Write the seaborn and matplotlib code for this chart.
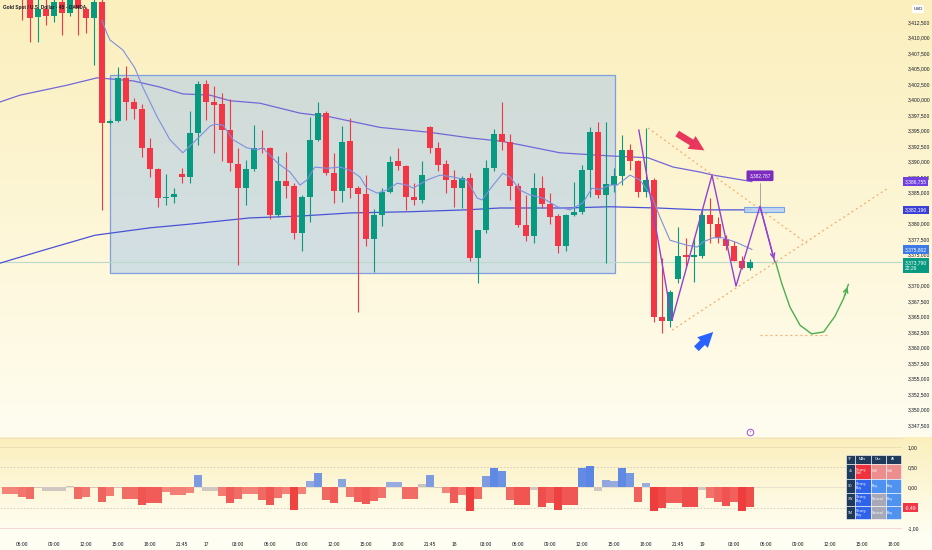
import numpy as np
import pandas as pd
import matplotlib
matplotlib.use("Agg")
import matplotlib.pyplot as plt
from matplotlib.patches import Rectangle
from matplotlib.colors import to_rgb
import seaborn as sns

sns.set_theme(style="white")
plt.rcParams['font.family'] = ['Liberation Sans', 'DejaVu Sans']

# ---- values (Gold Spot / USD, 45 min candles) ----
opens = [3419.0, 3418.2, 3418.8, 3417.0, 3413.3, 3414.55, 3413.5, 3415.7, 3413.9, 3416.8,
         3414.55, 3413.1, 3415.8, 3396.2, 3396.5, 3403.5, 3399.6, 3398.5, 3392.2, 3388.8,
         3384.1, 3384.3, 3388.0, 3387.5, 3394.6, 3402.5, 3399.6, 3399.2, 3395.1, 3389.6,
         3385.8, 3388.8, 3392.2, 3392.1, 3381.4, 3386.9, 3386.1, 3378.4, 3384.3, 3393.5,
         3397.9, 3388.2, 3385.2, 3393.3, 3385.7, 3384.7, 3377.5, 3381.4, 3385.1, 3390.0,
         3389.2, 3384.2, 3383.8, 3395.5, 3392.1, 3389.6, 3387.0, 3385.8, 3387.3, 3374.5,
         3378.9, 3388.9, 3394.5, 3393.1, 3386.1, 3379.8, 3378.0, 3385.7, 3383.2, 3381.2,
         3376.3, 3381.4, 3381.8, 3388.7, 3394.8, 3384.6, 3386.2, 3387.7, 3391.9, 3390.0,
         3385.1, 3387.0, 3364.9, 3364.3, 3371.0, 3374.9, 3374.6, 3374.8, 3381.4, 3379.9,
         3377.5, 3376.4, 3374.0, 3372.8]
closes = [3418.2, 3418.8, 3417.4, 3413.1, 3414.6, 3413.5, 3415.7, 3413.9, 3416.8, 3414.7,
          3413.1, 3415.8, 3396.2, 3396.5, 3403.5, 3399.6, 3398.5, 3392.2, 3388.8, 3384.1,
          3384.3, 3384.8, 3387.5, 3394.6, 3402.5, 3399.6, 3399.1, 3395.1, 3389.7, 3385.8,
          3388.8, 3392.1, 3392.0, 3381.4, 3386.9, 3386.1, 3378.4, 3384.3, 3393.5, 3397.9,
          3388.1, 3385.2, 3393.1, 3385.7, 3384.7, 3377.5, 3381.4, 3385.1, 3389.9, 3389.2,
          3384.2, 3383.8, 3387.9, 3392.1, 3389.4, 3387.0, 3385.8, 3387.3, 3374.5, 3378.9,
          3388.9, 3394.5, 3393.2, 3386.1, 3379.8, 3378.0, 3385.7, 3383.2, 3381.1, 3376.3,
          3381.4, 3381.8, 3388.7, 3394.8, 3384.6, 3386.3, 3387.7, 3391.9, 3390.0, 3385.1,
          3387.0, 3364.9, 3364.3, 3368.9, 3374.8, 3374.6, 3374.8, 3381.4, 3379.9, 3377.6,
          3376.4, 3374.0, 3372.8, 3373.8]
highs = [3420.1, 3420.0, 3419.5, 3417.8, 3416.5, 3416.3, 3416.6, 3416.6, 3417.5, 3417.5,
         3415.0, 3416.2, 3416.2, 3396.8, 3405.2, 3405.4, 3400.2, 3399.3, 3393.8, 3389.0,
         3388.0, 3385.7, 3389.0, 3398.1, 3403.0, 3403.2, 3402.2, 3401.0, 3400.1, 3392.2,
         3390.2, 3395.9, 3395.1, 3392.3, 3390.9, 3391.6, 3386.5, 3384.6, 3397.2, 3399.6,
         3398.2, 3391.3, 3395.7, 3397.0, 3386.0, 3387.8, 3382.3, 3385.7, 3390.9, 3392.1,
         3389.5, 3386.5, 3390.0, 3395.7, 3393.2, 3390.2, 3388.6, 3387.7, 3388.2, 3379.0,
         3390.2, 3395.3, 3399.6, 3394.5, 3386.5, 3384.6, 3388.1, 3387.6, 3384.9, 3381.5,
         3381.6, 3386.7, 3389.4, 3395.6, 3396.4, 3396.4, 3389.0, 3394.3, 3392.9, 3390.3,
         3395.4, 3387.3, 3374.4, 3369.2, 3379.5, 3377.6, 3377.9, 3382.3, 3384.1, 3381.0,
         3378.1, 3377.2, 3374.7, 3374.2]
lows = [3416.9, 3417.0, 3412.8, 3409.3, 3409.3, 3412.0, 3412.5, 3410.4, 3413.5, 3410.4,
        3410.7, 3405.6, 3382.2, 3396.0, 3396.3, 3396.7, 3396.8, 3390.7, 3387.5, 3382.7,
        3383.0, 3383.3, 3386.5, 3386.5, 3392.7, 3396.7, 3391.4, 3390.0, 3388.4, 3373.3,
        3383.0, 3388.4, 3391.4, 3380.8, 3381.0, 3384.1, 3377.5, 3375.5, 3380.3, 3393.3,
        3387.9, 3383.3, 3383.5, 3384.1, 3365.8, 3376.3, 3372.2, 3379.6, 3384.9, 3388.7,
        3382.2, 3383.0, 3383.3, 3391.4, 3388.4, 3384.9, 3382.7, 3382.5, 3374.0, 3370.4,
        3378.5, 3388.5, 3391.8, 3383.8, 3379.5, 3377.2, 3376.8, 3382.5, 3379.9, 3375.2,
        3375.5, 3381.2, 3381.5, 3384.3, 3384.1, 3373.6, 3385.0, 3386.2, 3388.6, 3384.2,
        3384.3, 3364.1, 3362.4, 3363.3, 3370.4, 3373.2, 3370.6, 3374.4, 3376.8, 3376.8,
        3375.7, 3373.9, 3372.6, 3372.5]

# technical rating histogram (lower pane)
rating = [-0.15, -0.15, -0.23, -0.29, -0.02, -0.08, -0.08, -0.08, 0.04, -0.29,
          -0.23, -0.01, -0.35, -0.21, -0.02, -0.29, -0.29, -0.44, -0.39, -0.39,
          -0.12, -0.18, -0.18, -0.14, 0.30, -0.08, -0.08, -0.21, -0.39, -0.29,
          -0.16, -0.16, -0.31, -0.44, -0.26, -0.16, -0.55, -0.16, 0.16, 0.37,
          -0.31, -0.39, 0.22, -0.23, -0.37, -0.41, -0.33, -0.26, 0.14, 0.14,
          -0.29, -0.29, 0.08, 0.30, -0.01, -0.14, -0.39, -0.18, -0.58, -0.29,
          0.29, 0.49, 0.41, -0.31, -0.44, -0.44, -0.06, -0.48, -0.39, -0.56,
          -0.43, -0.43, 0.47, 0.53, -0.08, 0.18, 0.15, 0.49, 0.35, -0.37,
          0.12, -0.59, -0.51, -0.39, -0.39, -0.49, -0.49, -0.06, -0.25, -0.35,
          -0.45, -0.37, -0.59, -0.49]

# moving averages, read at a few bars
ma_slow_idx = [-0.75, 1.75, 7.6, 11.4, 15.9, 19.25, 22.1, 25.5, 28, 31.75, 36.75, 40.5,
               46.75, 53, 58, 61.75, 64.25, 69.25, 75.5, 80.25, 83.4, 86.75, 88.4, 93.25]
ma_slow = [3399.6, 3400.7, 3402.3, 3403.5, 3403.0, 3402.0, 3400.9, 3400.7, 3399.8, 3399.4,
           3397.8, 3397.2, 3395.5, 3394.7, 3393.8, 3393.3, 3392.7, 3391.4, 3390.9, 3390.6,
           3389.1, 3388.3, 3387.8, 3386.755]
ma_mid_idx = [-0.75, 3.4, 5.5, 11.1, 18, 23, 30.5, 36.75, 43, 50.5, 57.6, 61.75, 70.1,
              75.5, 81.4, 86.75, 93.25]
ma_mid = [3373.6, 3375.2, 3376.0, 3378.1, 3379.3, 3379.9, 3380.9, 3381.2, 3381.7, 3381.9,
          3382.2, 3382.5, 3382.5, 3382.7, 3382.5, 3382.2, 3382.196]
ma_fast_idx = [12, 12.6, 13, 14.6, 16.1, 17.1, 18.9, 20.5, 22.1, 23.4, 25.5, 26.1, 27.1,
               28.4, 30.1, 31.4, 32.1, 33.9, 35.5, 36.75, 37.6, 38.6, 40.1, 41.75, 43,
               44.25, 45.1, 46.4, 47.6, 48.9, 50.1, 50.9, 52.6, 54.25, 55.9, 57.6, 58.9,
               59.5, 60.9, 62.1, 63, 64.25, 65.5, 67.1, 68.9, 70.5, 72.1, 73.25, 74.25,
               75.5, 76.4, 78, 79.25, 80.75, 81.75, 83, 85.1, 86.4, 87.1, 88.4, 89.6,
               91.4, 93.25]
ma_fast = [3412.8, 3410.7, 3409.6, 3408.0, 3405.1, 3402.0, 3397.2, 3393.5, 3391.4, 3393.0,
           3395.7, 3396.0, 3395.9, 3393.5, 3392.2, 3391.9, 3392.2, 3389.8, 3388.3, 3386.2,
           3387.0, 3389.1, 3388.9, 3389.1, 3388.6, 3387.5, 3385.7, 3384.9, 3385.4, 3386.5,
           3386.2, 3385.7, 3387.0, 3387.8, 3387.5, 3387.0, 3384.1, 3383.8, 3386.2, 3388.1,
           3387.5, 3385.4, 3384.6, 3384.1, 3382.7, 3382.2, 3383.3, 3385.7, 3385.5, 3386.2,
           3386.2, 3387.8, 3387.0, 3384.3, 3381.0, 3377.3, 3376.5, 3376.2, 3377.0, 3377.7,
           3377.7, 3376.9, 3375.802]
last_price = 3373.790

# drawings on the chart (bar index, price)
range_box_idx = [13.0, 76.1]
range_box_px = [3372.0, 3403.95]
zigzag_idx = [79.1, 83.25, 88.25, 91.25, 94.25, 96.1]
zigzag_px = [3395.1, 3364.4, 3387.8, 3369.9, 3382.787, 3373.8]
down_trend_idx = [80.25, 100.1]
down_trend_px = [3395.4, 3376.8]
up_trend_idx = [83.25, 110.25]
up_trend_px = [3362.8, 3385.7]
target_idx = [94.25, 103.0]
target_px = [3362.0, 3362.0]
curve_idx = [96.2, 96.96, 98.0, 99.25, 100.7, 102.2, 103.6, 104.7, 105.3]
curve_px = [3373.8, 3370.35, 3366.5, 3363.6, 3362.2, 3362.5, 3365.0, 3367.9, 3370.2]
zone_idx = [92.25, 97.25]
zone_px = [3381.85, 3382.66]
red_arrow = [(83.9, 3394.5), (87.3, 3391.8)]
blue_arrow = [(86.3, 3359.8), (88.4, 3362.5)]

time_tick_idx = [2, 6, 10, 14, 18, 22, 25, 29, 33, 37, 41, 45, 49, 53, 56, 60, 64, 68,
                 72, 76, 80, 84, 87, 91, 95, 99, 103, 107, 111]
time_tick_labels = ["06:00", "09:00", "12:00", "15:00", "18:00", "21:45", "17", "03:00",
                    "06:00", "09:00", "12:00", "15:00", "18:00", "21:45", "18", "03:00",
                    "06:00", "09:00", "12:00", "15:00", "18:00", "21:45", "19", "03:00",
                    "06:00", "09:00", "12:00", "15:00", "18:00"]

table_cols = ["TF", "MAs", "Osc", "All"]
table_rows = ["45", "1D", "1W", "1M"]
table_cells = [["Strong\nSell", "Sell", "Sell"],
               ["Strong\nBuy", "Buy", "Buy"],
               ["Strong\nBuy", "Neutral", "Buy"],
               ["Strong\nBuy", "Neutral", "Buy"]]

GREEN = "#089981"
RED = "#f23645"
TXT = "#131722"

candles = pd.DataFrame({"open": opens, "high": highs, "low": lows, "close": closes})
candles["idx"] = np.arange(len(candles))
candles["up"] = candles["close"] >= candles["open"]
candles["color"] = np.where(candles["up"], GREEN, RED)

W, H = 932, 550
fig = plt.figure(figsize=(W / 100, H / 100), dpi=100)

# background gradient (main pane, lower pane, time strip)
def grad(c1, c2, n):
    a, b = np.array(to_rgb(c1)), np.array(to_rgb(c2))
    t = np.linspace(0, 1, n)[:, None]
    return a * (1 - t) + b * t

rows = np.vstack([grad("#fbefbd", "#fffdf0", 437),
                  grad("#fbefbd", "#fffef3", 97),
                  grad("#fffef3", "#fffef3", 16)])
bg = fig.add_axes([0, 0, 1, 1], zorder=0)
bg.imshow(np.repeat(rows[:, None, :], 4, axis=1), extent=[0, W, H, 0], aspect="auto")
bg.set_xlim(0, W); bg.set_ylim(H, 0); bg.axis("off")
bg.plot([0, 902], [437.5, 437.5], color="#ece4c4", lw=0.8)

# ---- main price pane ----
ax = fig.add_axes([0, 1 - 437 / H, 902 / W, 437 / H], zorder=2)
ax.patch.set_alpha(0)
ax.set_xlim(-0.75, 112.0)
ax.set_ylim(3345.56, 3416.05)

ax.add_patch(Rectangle((range_box_idx[0], range_box_px[0]), range_box_idx[1] - range_box_idx[0],
                       range_box_px[1] - range_box_px[0], fc="#a9c8ea", ec="none", alpha=0.5, zorder=1))
ax.add_patch(Rectangle((range_box_idx[0], range_box_px[0]), range_box_idx[1] - range_box_idx[0],
                       range_box_px[1] - range_box_px[0], fc="none", ec="#7f9ee0", lw=0.9, zorder=1.1))
ax.axhline(last_price, color="#b9d9cc", lw=0.8, zorder=1.2)

sns.lineplot(x=ma_mid_idx, y=ma_mid, ax=ax, color="#4a53d6", lw=0.9, sort=False, estimator=None, zorder=2)
sns.lineplot(x=ma_slow_idx, y=ma_slow, ax=ax, color="#7466d9", lw=0.9, sort=False, estimator=None, zorder=2)

ax.vlines(candles["idx"], candles["low"], candles["high"], colors=candles["color"], lw=0.8, zorder=3)
body_lo = candles[["open", "close"]].min(axis=1)
body_h = np.maximum((candles["close"] - candles["open"]).abs(), 0.25)
ax.bar(candles["idx"], body_h, bottom=body_lo, width=0.76, color=candles["color"], lw=0, zorder=4)

sns.lineplot(x=ma_fast_idx, y=ma_fast, ax=ax, color="#7f8fe0", lw=0.8, sort=False, estimator=None, zorder=5)

# projection drawings
ax.plot(down_trend_idx, down_trend_px, color="#f2ac6a", lw=0.9, ls=(0, (1.5, 2.5)), zorder=5)
ax.plot(up_trend_idx, up_trend_px, color="#f2ac6a", lw=0.9, ls=(0, (1.5, 2.5)), zorder=5)
ax.plot(target_idx, target_px, color="#f2ac6a", lw=0.9, ls=(0, (1.5, 2.5)), zorder=5)
ax.add_patch(Rectangle((zone_idx[0], zone_px[0]), zone_idx[1] - zone_idx[0], zone_px[1] - zone_px[0],
                       fc="#bcd3f2", ec="#6c9be6", lw=0.8, alpha=0.9, zorder=6))
ax.plot([zigzag_idx[4]] * 2, [3386.6, zone_px[1]], color="#9a9a9a", lw=0.6, zorder=6)
ax.plot(zigzag_idx, zigzag_px, color="#9440d0", lw=1.0, zorder=7)
ax.annotate("", xy=(zigzag_idx[-1], zigzag_px[-1]), xytext=(zigzag_idx[-2], zigzag_px[-2]),
            arrowprops=dict(arrowstyle="->", color="#9440d0", lw=1.0, mutation_scale=8), zorder=7)
ax.plot(curve_idx, curve_px, color="#4caf50", lw=1.0, zorder=7)
ax.annotate("", xy=(curve_idx[-1], curve_px[-1]), xytext=(curve_idx[-2], curve_px[-2]),
            arrowprops=dict(arrowstyle="->", color="#4caf50", lw=1.0, mutation_scale=8), zorder=7)
for (p0, p1), col in [(red_arrow, "#e8365d"), (blue_arrow, "#2962ff")]:
    ax.annotate("", xy=p1, xytext=p0,
                arrowprops=dict(arrowstyle="simple,head_length=0.9,head_width=0.9,tail_width=0.4",
                                fc=col, ec="none", mutation_scale=12, shrinkA=0, shrinkB=0), zorder=8)
ax.text(zigzag_idx[4], 3387.7, f"{zigzag_px[4]:,.3f}".replace(".", ","), ha="center", va="center",
        fontsize=3.4, color="white", zorder=9,
        bbox=dict(boxstyle="round,pad=0.6,rounding_size=0.3", fc="#7b2cbf", ec="none"))

# right price scale
price_ticks = [p for p in np.arange(3347.5, 3413.0, 2.5) if p not in (3382.5, 3372.5)]
ax.yaxis.tick_right()
ax.set_yticks(price_ticks)
ax.set_yticklabels([f"{p:,.3f}".replace(".", ",") for p in price_ticks], fontsize=3.6, color=TXT)
ax.tick_params(axis="y", length=0, pad=4)
ax.set_xticks([])
for s in ax.spines.values():
    s.set_visible(False)

tags = [(ma_slow[-1], "#6f3fe0"), (ma_mid[-1], "#3b3fd6"), (ma_fast[-1], "#3c7ae8")]
for val, col in tags:
    ax.annotate(f"{val:,.3f}".replace(".", ","), xy=(1.003, val), xycoords=("axes fraction", "data"),
                fontsize=3.6, color="white", va="center", ha="left", annotation_clip=False, zorder=10,
                bbox=dict(boxstyle="square,pad=0.35", fc=col, ec="none"))
ax.annotate(f"{last_price:,.3f}".replace(".", ",") + "\n22:26", xy=(1.003, last_price - 0.55),
            xycoords=("axes fraction", "data"), fontsize=3.6, color="white", va="center", ha="left",
            linespacing=1.3, annotation_clip=False, zorder=10,
            bbox=dict(boxstyle="square,pad=0.35", fc=GREEN, ec="none"))

# ---- technical rating pane ----
axi = fig.add_axes([0, 1 - 534 / H, 902 / W, 96 / H], zorder=2)
axi.patch.set_alpha(0)
axi.set_xlim(-0.75, 112.0)
axi.set_ylim(-1.148, 1.222)

def bar_color(v):
    if abs(v) < 0.1:
        return "#d2c6c2" if v <= 0 else "#c9c3c0"
    base = np.array(to_rgb("#4f7ee6" if v > 0 else "#ee3b3b"))
    light = np.array(to_rgb("#fbe9d2"))
    t = 0.45 + 0.55 * min(abs(v) / 0.6, 1.0)
    return tuple(light * (1 - t) + base * t)

axi.axhline(1.0, color="#eadfb0", lw=0.7)
axi.axhline(-1.0, color="#f6d6d6", lw=0.7)
axi.axhline(0.5, color="#cfcabc", lw=0.6, ls=(0, (2, 2)))
axi.axhline(-0.5, color="#cfcabc", lw=0.6, ls=(0, (2, 2)))
axi.axhline(0.0, color="#ddd8cc", lw=0.5)
axi.bar(np.arange(len(rating)), rating, width=0.9, color=[bar_color(v) for v in rating], lw=0, zorder=3)

axi.yaxis.tick_right()
axi.set_yticks([1.0, 0.5, 0.0, -1.0])
axi.set_yticklabels(["1,00", "0,50", "0,00", "-1,00"], fontsize=3.6, color=TXT)
axi.tick_params(axis="y", length=0, pad=4)
axi.set_xticks(time_tick_idx)
axi.set_xticklabels(time_tick_labels, fontsize=3.5, color=TXT)
axi.tick_params(axis="x", length=0, pad=6)
for s in axi.spines.values():
    s.set_visible(False)
axi.annotate(f"{rating[-1]:.2f}".replace(".", ","), xy=(1.003, rating[-1]),
             xycoords=("axes fraction", "data"), fontsize=3.6, color="white", va="center", ha="left",
             annotation_clip=False, bbox=dict(boxstyle="square,pad=0.35", fc=RED, ec="none"))

# ---- overlay: title, icons, ratings table ----
ov = fig.add_axes([0, 0, 1, 1], zorder=6)
ov.set_xlim(0, W); ov.set_ylim(H, 0); ov.axis("off")
ov.text(3, 8, "Gold Spot / U.S. Dollar · 45 · OANDA", fontsize=3.4, color=TXT, va="center",
        fontweight="bold")
ov.text(918, 9, "USD", fontsize=3.2, color=TXT, ha="center", va="center",
        bbox=dict(boxstyle="square,pad=0.4", fc="white", ec="none"))
ov.scatter([750], [432], s=22, facecolor="white", edgecolor="#9c4fd6", lw=0.7)
ov.text(750, 432.3, "⚡", fontsize=3.2, color="#9c4fd6", ha="center", va="center",
        family=["DejaVu Sans"])

col_x = [846, 855, 870.7, 886, 900.7]
row_y = [455, 464, 479, 492.7, 506, 519.3]
cell_colors = {"Strong\nSell": "#f0323c", "Sell": "#ec8e8e", "Strong\nBuy": "#2f63ea",
               "Buy": "#4f92f0", "Neutral": "#a9a9b6"}
navy = "#1f3a5a"
for j, name in enumerate(table_cols):
    ov.add_patch(Rectangle((col_x[j], row_y[0]), col_x[j + 1] - col_x[j], row_y[1] - row_y[0],
                           fc=navy, ec="white", lw=0.4))
    ov.text((col_x[j] + col_x[j + 1]) / 2, (row_y[0] + row_y[1]) / 2, name, fontsize=2.6,
            color="white", ha="center", va="center")
for i, tf in enumerate(table_rows):
    y0, y1 = row_y[i + 1], row_y[i + 2]
    ov.add_patch(Rectangle((col_x[0], y0), col_x[1] - col_x[0], y1 - y0, fc=navy, ec="white", lw=0.4))
    ov.text((col_x[0] + col_x[1]) / 2, (y0 + y1) / 2, tf, fontsize=2.6, color="white",
            ha="center", va="center")
    for j, txt in enumerate(table_cells[i]):
        ov.add_patch(Rectangle((col_x[j + 1], y0), col_x[j + 2] - col_x[j + 1], y1 - y0,
                               fc=cell_colors[txt], ec="white", lw=0.4))
        ov.text(col_x[j + 1] + 1.2, (y0 + y1) / 2, txt, fontsize=2.5, color="white",
                ha="left", va="center", linespacing=1.0)

fig.savefig("out.png", dpi=100)
